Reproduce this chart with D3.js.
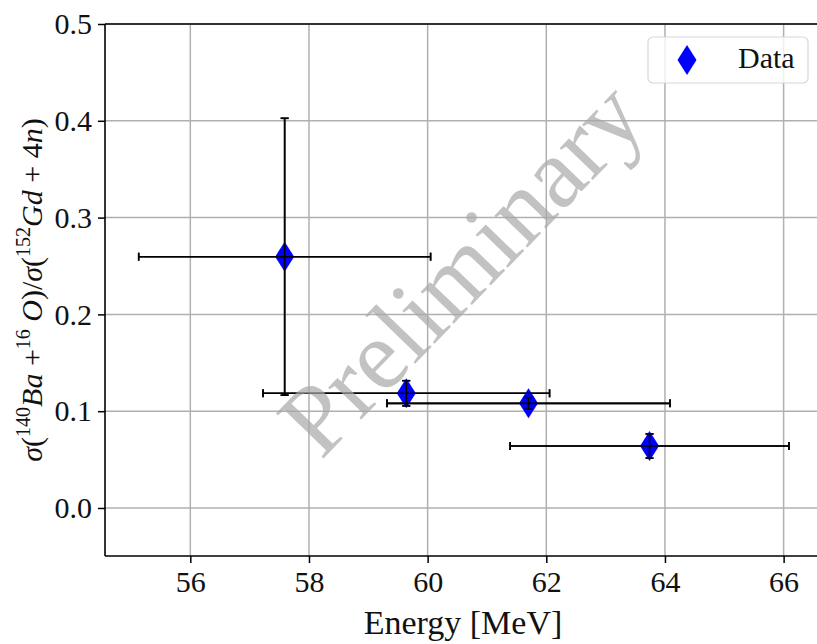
<!DOCTYPE html>
<html>
<head>
<meta charset="utf-8">
<script src="https://cdn.jsdelivr.net/npm/d3@7"></script>
<style>
  html, body { margin: 0; background: #fff; overflow: hidden; }
  svg { display: block; }
  text { font-family: "Liberation Serif", "DejaVu Serif", serif; }
</style>
</head>
<body>
<svg id="chart" width="817" height="644"></svg>
<script>
// measured points (energy in MeV, cross-section ratio)
let energy = [57.59, 59.64, 61.70, 63.74];
let energy_err = [2.46, 2.415, 2.385, 2.35];
let ratio = [0.2596, 0.1185, 0.1081, 0.064];
let ratio_err = [0.143, 0.013, 0.006, 0.0125];

let x_ticks = [56, 58, 60, 62, 64, 66];
let y_ticks = [0.0, 0.1, 0.2, 0.3, 0.4, 0.5];
let x_domain = [54.562, 66.63];
let y_domain = [-0.0496, 0.5];

var svg = d3.select("#chart");
var margin = {top: 24, right: -4, bottom: 88, left: 105};
var width = +svg.attr("width") - margin.left - margin.right;
var height = +svg.attr("height") - margin.top - margin.bottom;

var x = d3.scaleLinear().domain(x_domain).range([0, width]);
var y = d3.scaleLinear().domain(y_domain).range([height, 0]);

var g = svg.append("g")
    .attr("transform", "translate(" + margin.left + "," + margin.top + ")");

// grid
g.append("g").selectAll("line")
  .data(x_ticks).enter().append("line")
    .attr("x1", d => x(d)).attr("x2", d => x(d))
    .attr("y1", 0).attr("y2", height)
    .attr("stroke", "#b0b0b0").attr("stroke-width", 1.5);
g.append("g").selectAll("line")
  .data(y_ticks).enter().append("line")
    .attr("x1", 0).attr("x2", width)
    .attr("y1", d => y(d)).attr("y2", d => y(d))
    .attr("stroke", "#b0b0b0").attr("stroke-width", 1.5);

// axes
var xAxis = g.append("g")
    .attr("transform", "translate(0," + height + ")")
    .call(d3.axisBottom(x).tickValues(x_ticks).tickFormat(d3.format("d")).tickSizeOuter(0).tickSize(7).tickPadding(8));
var yAxis = g.append("g")
    .call(d3.axisLeft(y).tickValues(y_ticks).tickFormat(d3.format(".1f")).tickSizeOuter(0).tickSize(7).tickPadding(6));
[xAxis, yAxis].forEach(function(a) {
  a.attr("font-family", null);
  a.select(".domain").remove();
  a.selectAll(".tick line").attr("stroke", "#000").attr("stroke-width", 1.5);
  a.selectAll(".tick text").attr("fill", "#111").attr("font-size", 30);
});

// spines (the right one falls outside the picture)
var spines = g.append("g").attr("stroke", "#000").attr("stroke-width", 1.6);
spines.append("line").attr("x1", 0).attr("x2", width).attr("y1", 0).attr("y2", 0);
spines.append("line").attr("x1", 0).attr("x2", width).attr("y1", height).attr("y2", height);
spines.append("line").attr("x1", 0).attr("x2", 0).attr("y1", 0).attr("y2", height);

// watermark
svg.append("text")
    .attr("transform", "translate(461,268) rotate(-46)")
    .attr("text-anchor", "middle")
    .attr("dominant-baseline", "central")
    .attr("font-size", 100)
    .attr("fill", "#a8a8a8")
    .attr("fill-opacity", 0.7)
    .text("Preliminary");

// error bars
var cap = 4;
var pts = energy.map((e, i) => ({x: e, xe: energy_err[i], y: ratio[i], ye: ratio_err[i]}));
var eb = g.append("g").attr("stroke", "#000").attr("stroke-width", 1.6).attr("fill", "none");
pts.forEach(function(p) {
  eb.append("line").attr("x1", x(p.x - p.xe)).attr("x2", x(p.x + p.xe))
    .attr("y1", y(p.y)).attr("y2", y(p.y));
  eb.append("line").attr("x1", x(p.x)).attr("x2", x(p.x))
    .attr("y1", y(p.y - p.ye)).attr("y2", y(p.y + p.ye));
  [p.x - p.xe, p.x + p.xe].forEach(v => eb.append("line")
    .attr("x1", x(v)).attr("x2", x(v)).attr("y1", y(p.y) - cap).attr("y2", y(p.y) + cap));
  [p.y - p.ye, p.y + p.ye].forEach(v => eb.append("line")
    .attr("x1", x(p.x) - cap).attr("x2", x(p.x) + cap).attr("y1", y(v)).attr("y2", y(v)));
});

// thin diamond markers
function diamond(cx, cy) {
  var w = 9.5, h = 15;
  return "M" + cx + "," + (cy - h) + "L" + (cx + w) + "," + cy + "L" + cx + "," + (cy + h) + "L" + (cx - w) + "," + cy + "Z";
}
g.selectAll(".pt").data(pts).enter().append("path")
    .attr("class", "pt")
    .attr("d", d => diamond(x(d.x), y(d.y)))
    .attr("fill", "#0000ff");

// error bars sit on top of the markers
g.node().appendChild(eb.node().cloneNode(true));

// axis labels
svg.append("text")
    .attr("x", 463).attr("y", 634)
    .attr("text-anchor", "middle")
    .attr("font-size", 34)
    .attr("fill", "#111")
    .text("Energy [MeV]");

var yl = svg.append("text")
    .attr("transform", "translate(42,290) rotate(-90)")
    .attr("text-anchor", "middle")
    .attr("font-size", 30)
    .attr("fill", "#111");
function part(txt, italic, sup) {
  var t = yl.append("tspan").text(txt);
  if (italic) t.attr("font-style", "italic");
  if (sup) t.attr("font-size", 20).attr("dy", -12);
  return t;
}
part("σ", true); part("(");
part("140", false, true); part("Ba", true).attr("dy", 12); part(" +");
part("16", false, true); part(" O", true).attr("dy", 12); part(")/");
part("σ", true); part("(");
part("152", false, true); part("Gd", true).attr("dy", 12); part(" + 4"); part("n", true); part(")");

// legend
var lg = svg.append("g");
lg.append("rect")
    .attr("x", 648).attr("y", 37).attr("width", 160).attr("height", 46)
    .attr("rx", 5).attr("fill", "#fff").attr("fill-opacity", 0.8)
    .attr("stroke", "#d8d8d8").attr("stroke-width", 1.2);
lg.append("path").attr("d", diamond(687, 60)).attr("fill", "#0000ff");
lg.append("text")
    .attr("x", 738).attr("y", 68)
    .attr("font-size", 30)
    .attr("fill", "#111")
    .text("Data");
</script>
</body>
</html>
